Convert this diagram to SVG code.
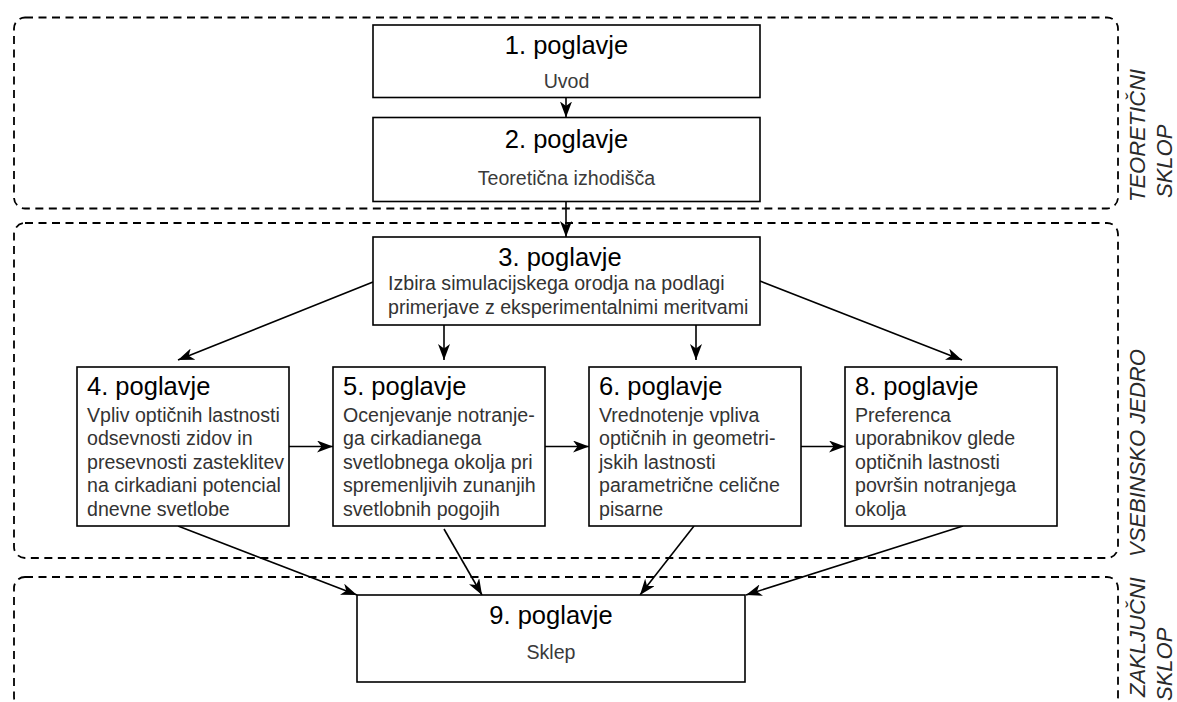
<svg xmlns="http://www.w3.org/2000/svg" width="1177" height="702" viewBox="0 0 1177 702">
<style>
.grp{fill:none;stroke:#000;stroke-width:1.8;stroke-dasharray:8 5.5}
.box{fill:#fff;stroke:#000;stroke-width:1.6}
.title{font-family:"Liberation Sans",Arial,sans-serif;font-size:25.5px;fill:#000}
.body{font-family:"Liberation Sans",Arial,sans-serif;font-size:19.6px;fill:#333}
.sub{font-family:"Liberation Sans",Arial,sans-serif;font-size:19.6px;fill:#3a3a3a}
.lbl{font-family:"Liberation Sans",Arial,sans-serif;font-size:22px;font-style:italic;fill:#2a2a2a}
.con{fill:none;stroke:#000;stroke-width:1.6;marker-end:url(#ah)}
</style>
<defs>
<marker id="ah" markerWidth="16" markerHeight="12" refX="16" refY="6" orient="auto" markerUnits="userSpaceOnUse">
<path d="M0,0 L16,6 L0,12 L4.5,6 Z" fill="#000"/>
</marker>
</defs>
<rect width="1177" height="702" fill="#fff"/>

<g id="group-teoreticni">
<rect class="grp" x="14" y="17.5" width="1104" height="191" rx="11"/>
<text class="lbl" transform="translate(1145,202) rotate(-90)">TEORETIČNI</text>
<text class="lbl" transform="translate(1172,198) rotate(-90)">SKLOP</text>
</g>
<g id="group-jedro">
<rect class="grp" x="14" y="223" width="1104" height="335" rx="11"/>
<text class="lbl" transform="translate(1145,557) rotate(-90)">VSEBINSKO JEDRO</text>
</g>
<g id="group-zakljucni">
<rect class="grp" x="14" y="577" width="1104" height="131" rx="11"/>
<text class="lbl" transform="translate(1145,697) rotate(-90)">ZAKLJUČNI</text>
<text class="lbl" transform="translate(1172,701) rotate(-90)">SKLOP</text>
</g>

<g id="connectors">
<line class="con" x1="566" y1="97.5" x2="566" y2="117.5"/>
<line class="con" x1="566" y1="201.5" x2="566" y2="237"/>
<line class="con" x1="373" y1="282" x2="178" y2="360"/>
<line class="con" x1="444" y1="325" x2="444" y2="360"/>
<line class="con" x1="696" y1="325" x2="696" y2="360"/>
<line class="con" x1="760" y1="281" x2="962" y2="360"/>
<line class="con" x1="289" y1="446.5" x2="333" y2="446.5"/>
<line class="con" x1="545" y1="446.5" x2="589" y2="446.5"/>
<line class="con" x1="801" y1="446.5" x2="845" y2="446.5"/>
<line class="con" x1="178" y1="526" x2="357" y2="595"/>
<line class="con" x1="444" y1="529" x2="482" y2="595"/>
<line class="con" x1="694" y1="526" x2="640" y2="595"/>
<line class="con" x1="963" y1="526" x2="746" y2="595"/>
</g>

<g id="node-1">
<rect class="box" x="373" y="25" width="387" height="72.5"/>
<text class="title" x="566.5" y="54" text-anchor="middle">1. poglavje</text>
<text class="sub" x="566.5" y="87.5" text-anchor="middle">Uvod</text>
</g>
<g id="node-2">
<rect class="box" x="373" y="117.5" width="387" height="84"/>
<text class="title" x="566.5" y="147.5" text-anchor="middle">2. poglavje</text>
<text class="sub" x="566.5" y="185" text-anchor="middle">Teoretična izhodišča</text>
</g>
<g id="node-3">
<rect class="box" x="373" y="237" width="387" height="88"/>
<text class="title" x="560" y="265.5" text-anchor="middle">3. poglavje</text>
<text class="body" x="388" y="290">Izbira simulacijskega orodja na podlagi</text>
<text class="body" x="388" y="313.5">primerjave z eksperimentalnimi meritvami</text>
</g>
<g id="node-4">
<rect class="box" x="77" y="367" width="212" height="159"/>
<text class="title" x="87" y="395">4. poglavje</text>
<text class="body" x="87" y="421.5">Vpliv optičnih lastnosti</text>
<text class="body" x="87" y="445">odsevnosti zidov in</text>
<text class="body" x="87" y="468.5">presevnosti zasteklitev</text>
<text class="body" x="87" y="492">na cirkadiani potencial</text>
<text class="body" x="87" y="515.5">dnevne svetlobe</text>
</g>
<g id="node-5">
<rect class="box" x="333" y="367" width="212" height="159"/>
<text class="title" x="343" y="395">5. poglavje</text>
<text class="body" x="343" y="421.5">Ocenjevanje notranje-</text>
<text class="body" x="343" y="445">ga cirkadianega</text>
<text class="body" x="343" y="468.5">svetlobnega okolja pri</text>
<text class="body" x="343" y="492">spremenljivih zunanjih</text>
<text class="body" x="343" y="515.5">svetlobnih pogojih</text>
</g>
<g id="node-6">
<rect class="box" x="589" y="367" width="212" height="159"/>
<text class="title" x="599" y="395">6. poglavje</text>
<text class="body" x="599" y="421.5">Vrednotenje vpliva</text>
<text class="body" x="599" y="445">optičnih in geometri-</text>
<text class="body" x="599" y="468.5">jskih lastnosti</text>
<text class="body" x="599" y="492">parametrične celične</text>
<text class="body" x="599" y="515.5">pisarne</text>
</g>
<g id="node-8">
<rect class="box" x="845" y="367" width="212" height="159"/>
<text class="title" x="855" y="395">8. poglavje</text>
<text class="body" x="855" y="421.5">Preferenca</text>
<text class="body" x="855" y="445">uporabnikov glede</text>
<text class="body" x="855" y="468.5">optičnih lastnosti</text>
<text class="body" x="855" y="492">površin notranjega</text>
<text class="body" x="855" y="515.5">okolja</text>
</g>
<g id="node-9">
<rect class="box" x="357" y="595" width="388" height="87"/>
<text class="title" x="551" y="624" text-anchor="middle">9. poglavje</text>
<text class="sub" x="551" y="659" text-anchor="middle">Sklep</text>
</g>
</svg>
